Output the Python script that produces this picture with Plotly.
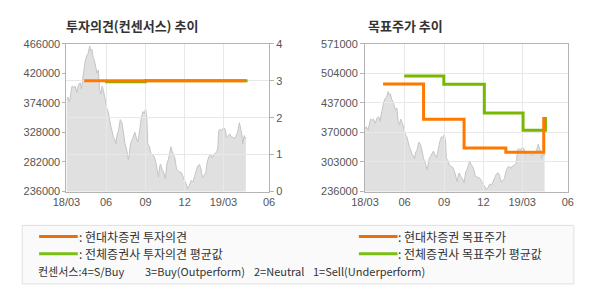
import plotly.graph_objects as go

# ---------------- data ----------------
price_dates = [
    "2018-03-01", "2018-03-04", "2018-03-08", "2018-03-12", "2018-03-14", "2018-03-18", "2018-03-21",
    "2018-03-25", "2018-03-29", "2018-04-02", "2018-04-05", "2018-04-09", "2018-04-11", "2018-04-14",
    "2018-04-17", "2018-04-20", "2018-04-24", "2018-04-26", "2018-04-29", "2018-05-02", "2018-05-05",
    "2018-05-08", "2018-05-11", "2018-05-14", "2018-05-17", "2018-05-20", "2018-05-23", "2018-05-26",
    "2018-05-30", "2018-06-03", "2018-06-06", "2018-06-09", "2018-06-12", "2018-06-15", "2018-06-18",
    "2018-06-21", "2018-06-24", "2018-06-27", "2018-06-30", "2018-07-04", "2018-07-08", "2018-07-12",
    "2018-07-15", "2018-07-19", "2018-07-23", "2018-07-25", "2018-07-28", "2018-07-31", "2018-08-03",
    "2018-08-07", "2018-08-11", "2018-08-14", "2018-08-18", "2018-08-22", "2018-08-26", "2018-08-29",
    "2018-09-01", "2018-09-04", "2018-09-06", "2018-09-10", "2018-09-13", "2018-09-17", "2018-09-21",
    "2018-09-25", "2018-09-28", "2018-10-01", "2018-10-04", "2018-10-06", "2018-10-09", "2018-10-13",
    "2018-10-17", "2018-10-21", "2018-10-24", "2018-10-28", "2018-10-30", "2018-11-02", "2018-11-05",
    "2018-11-08", "2018-11-12", "2018-11-16", "2018-11-20", "2018-11-23", "2018-11-27", "2018-12-01",
    "2018-12-05", "2018-12-08", "2018-12-12", "2018-12-16", "2018-12-20", "2018-12-23", "2018-12-27",
    "2018-12-31", "2019-01-04", "2019-01-07", "2019-01-11", "2019-01-15", "2019-01-19", "2019-01-22",
    "2019-01-26", "2019-01-30", "2019-02-03", "2019-02-06", "2019-02-10", "2019-02-14", "2019-02-16",
    "2019-02-18", "2019-02-21", "2019-02-25", "2019-03-01", "2019-03-05", "2019-03-08", "2019-03-12",
    "2019-03-16", "2019-03-19", "2019-03-23", "2019-03-27", "2019-03-31", "2019-04-03", "2019-04-07",
    "2019-04-09", "2019-04-12", "2019-04-15", "2019-04-18", "2019-04-21", "2019-04-22",
]
price_values = [
    377800, 382800, 375400, 397800, 400200, 397800, 400200,
    390300, 402700, 405200, 395300, 417700, 430100, 440100,
    447500, 450000, 462500, 455000, 457500, 445000, 440100,
    430100, 420200, 425100, 395300, 387800, 400200, 392800,
    375400, 365400, 360400, 345500, 338000, 330600, 320600,
    318100, 310600, 325600, 330600, 348000, 343000, 325600,
    310600, 300700, 285800, 293200, 310600, 315600, 320600,
    328100, 318100, 313100, 330600, 350500, 360400, 357900,
    365400, 350500, 310600, 305700, 295700, 293200, 290700,
    280800, 270800, 258400, 275800, 278300, 270800, 265800,
    255900, 280800, 285800, 303200, 305700, 298200, 293200,
    288200, 270800, 268300, 265800, 265800, 258400, 250900,
    245900, 241000, 245900, 253400, 250900, 258400, 268300,
    275800, 278300, 273300, 258400, 260900, 265800, 280800,
    290700, 293200, 288200, 293200, 295700, 298200, 305700,
    330600, 333000, 330600, 335500, 333000, 320600, 323100,
    325600, 320600, 320600, 318100, 323100, 328100, 343000,
    338000, 328100, 310600, 323100, 318100, 320600,
]

opinion_own_dates = ["2018-04-11", "2019-04-22"]
opinion_own = [3, 3]
opinion_avg_dates = ["2018-05-30", "2018-08-31", "2019-04-26"]
opinion_avg = [2.97, 3, 3]

target_own_dates = ["2018-04-12", "2018-07-15", "2018-10-17", "2019-01-22", "2019-04-20"]
target_own = [480000, 400000, 335000, 325000, 405000]
target_avg_dates = ["2018-05-31", "2018-08-31", "2018-12-03", "2019-03-03", "2019-04-24"]
target_avg = [498000, 479000, 414000, 375000, 405000]

x_tick_vals = ["2018-03-01", "2018-06-01", "2018-09-01", "2018-12-01", "2019-03-01", "2019-06-15"]
x_tick_text = ["18/03", "06", "09", "12", "19/03", "06"]
x_range = ["2018-03-01", "2019-06-15"]

left_price_ticks = [236000, 282000, 328000, 374000, 420000, 466000]
opinion_ticks = [0, 1, 2, 3, 4]
right_price_ticks = [236000, 303000, 370000, 437000, 504000, 571000]

# ---------------- styles ----------------
W, H = 590, 300
ORANGE = "#ff7800"
GREEN = "#78b800"
LEG_ORANGE = "#e8700c"
LEG_GREEN = "#7cbf14"
FRAME = "#b4b4b4"
GRID = "#e8e8e8"
AREA_FILL = "#e0e0e0"
AREA_LINE = "#c4c4c4"
TICKFONT = dict(family="Liberation Sans, Arial, sans-serif", size=11, color="#555555")
KFONT = "Noto Sans CJK KR, sans-serif"

def px(x):
    return x / W

def py(y):
    return 1 - y / H

dom_left = [px(54.3), px(264)]
dom_right = [px(363.3), px(573.3)]
dom_y = [py(193.3), py(39.3)]

fig = go.Figure()

# left chart: price area (subplot xy), opinion lines (subplot x2y2)
fig.add_trace(go.Scatter(x=price_dates, y=price_values, mode="lines",
                         line=dict(color=AREA_LINE, width=1), fill="tozeroy",
                         fillcolor=AREA_FILL, xaxis="x", yaxis="y", hoverinfo="skip"))
fig.add_trace(go.Scatter(x=opinion_avg_dates, y=opinion_avg, mode="lines", line_shape="hv",
                         line=dict(color=GREEN, width=3), xaxis="x2", yaxis="y2"))
fig.add_trace(go.Scatter(x=opinion_own_dates, y=opinion_own, mode="lines", line_shape="hv",
                         line=dict(color=ORANGE, width=3), xaxis="x2", yaxis="y2"))

# right chart: price area (x3y3), target lines (x4y4)
fig.add_trace(go.Scatter(x=price_dates, y=price_values, mode="lines",
                         line=dict(color=AREA_LINE, width=1), fill="tozeroy",
                         fillcolor=AREA_FILL, xaxis="x3", yaxis="y3", hoverinfo="skip"))
fig.add_trace(go.Scatter(x=target_avg_dates, y=target_avg, mode="lines", line_shape="hv",
                         line=dict(color=GREEN, width=3), xaxis="x4", yaxis="y4"))
fig.add_trace(go.Scatter(x=target_own_dates, y=target_own, mode="lines", line_shape="hv",
                         line=dict(color=ORANGE, width=3), xaxis="x4", yaxis="y4"))

hidden_x = dict(type="date", range=x_range, visible=False, fixedrange=True)
grid_x = dict(type="date", range=x_range, tickvals=x_tick_vals, ticktext=x_tick_text,
              showgrid=True, gridcolor=GRID, gridwidth=1, showline=True, mirror=True,
              linecolor=FRAME, linewidth=1, ticks="", tickfont=TICKFONT, zeroline=False,
              fixedrange=True)

fig.update_layout(
    width=W, height=H, margin=dict(l=0, r=0, t=0, b=0),
    paper_bgcolor="white", plot_bgcolor="rgba(0,0,0,0)", showlegend=False,
    xaxis=dict(hidden_x, domain=dom_left, anchor="y"),
    yaxis=dict(domain=dom_y, anchor="x", range=[236000, 466000], tickvals=left_price_ticks,
               tickformat="d", showgrid=False, zeroline=False, ticks="outside", ticklen=3,
               tickcolor=FRAME, tickfont=TICKFONT, fixedrange=True),
    xaxis2=dict(grid_x, domain=dom_left, anchor="y2"),
    yaxis2=dict(domain=dom_y, anchor="x2", side="right", range=[0, 4], tickvals=opinion_ticks,
                showgrid=True, gridcolor=GRID, zeroline=False, showline=True, mirror=True,
                linecolor=FRAME, ticks="outside", ticklen=4, tickcolor=FRAME,
                tickfont=TICKFONT, fixedrange=True),
    xaxis3=dict(hidden_x, domain=dom_right, anchor="y3"),
    yaxis3=dict(domain=dom_y, anchor="x3", range=[236000, 571000], visible=False, fixedrange=True),
    xaxis4=dict(grid_x, domain=dom_right, anchor="y4"),
    yaxis4=dict(domain=dom_y, anchor="x4", range=[236000, 571000], tickvals=right_price_ticks,
                tickformat="d", showgrid=True, gridcolor=GRID, zeroline=False, showline=True,
                mirror=True, linecolor=FRAME, ticks="outside", ticklen=4, tickcolor=FRAME,
                tickfont=TICKFONT, fixedrange=True),
)

annotations = [
    dict(text="<b>투자의견(컨센서스) 추이</b>", x=px(54), y=py(20.5), xanchor="left", yanchor="middle",
         font=dict(family=KFONT, size=13, color="#333333")),
    dict(text="<b>목표주가 추이</b>", x=px(366), y=py(20.5), xanchor="left", yanchor="middle",
         font=dict(family=KFONT, size=13, color="#333333")),
    dict(text=": 현대차증권 투자의견", x=px(67), y=py(240), xanchor="left", yanchor="middle",
         font=dict(family=KFONT, size=12, color="#333333")),
    dict(text=": 전체증권사 투자의견 평균값", x=px(67), y=py(258), xanchor="left", yanchor="middle",
         font=dict(family=KFONT, size=12, color="#333333")),
    dict(text=": 현대차증권 목표주가", x=px(397), y=py(240), xanchor="left", yanchor="middle",
         font=dict(family=KFONT, size=12, color="#333333")),
    dict(text=": 전체증권사 목표주가 평균값", x=px(397), y=py(258), xanchor="left", yanchor="middle",
         font=dict(family=KFONT, size=12, color="#333333")),
    dict(text="컨센서스:4=S/Buy", x=px(25), y=py(276), xanchor="left", yanchor="middle",
         font=dict(family=KFONT, size=11, color="#333333")),
    dict(text="3=Buy(Outperform)", x=px(136), y=py(276), xanchor="left", yanchor="middle",
         font=dict(family=KFONT, size=11, color="#333333")),
    dict(text="2=Neutral", x=px(248), y=py(276), xanchor="left", yanchor="middle",
         font=dict(family=KFONT, size=11, color="#333333")),
    dict(text="1=Sell(Underperform)", x=px(309), y=py(276), xanchor="left", yanchor="middle",
         font=dict(family=KFONT, size=11, color="#333333")),
]
for a in annotations:
    a.update(xref="paper", yref="paper", showarrow=False, borderpad=0, borderwidth=0)
fig.update_layout(annotations=annotations)

shapes = [
    dict(type="rect", xref="paper", yref="paper", x0=px(8.5), x1=px(579.5), y0=py(289.5), y1=py(228.5),
         fillcolor="#fafafa", line=dict(color="#e0e0e0", width=1), layer="below"),
    dict(type="line", xref="paper", yref="paper", x0=px(26), x1=px(66), y0=py(240), y1=py(240),
         line=dict(color=LEG_ORANGE, width=3)),
    dict(type="line", xref="paper", yref="paper", x0=px(26), x1=px(66), y0=py(258), y1=py(258),
         line=dict(color=LEG_GREEN, width=3)),
    dict(type="line", xref="paper", yref="paper", x0=px(357), x1=px(397), y0=py(240), y1=py(240),
         line=dict(color=LEG_ORANGE, width=3)),
    dict(type="line", xref="paper", yref="paper", x0=px(357), x1=px(397), y0=py(258), y1=py(258),
         line=dict(color=LEG_GREEN, width=3)),
]
fig.update_layout(shapes=shapes)

fig.write_html("out.html", post_script="document.body.style.margin='0';")
